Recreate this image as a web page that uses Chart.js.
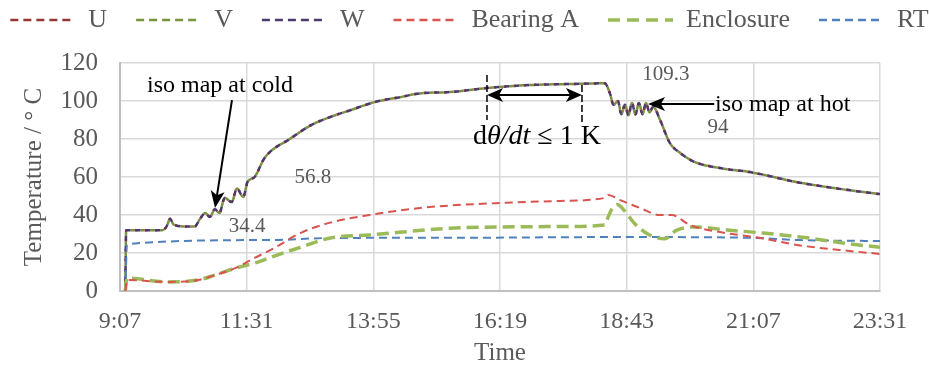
<!DOCTYPE html>
<html>
<head>
<meta charset="utf-8">
<script src="https://cdn.jsdelivr.net/npm/chart.js@4.4.1/dist/chart.umd.min.js"></script>
<style>
  html, body { margin: 0; padding: 0; background: #fff; }
  #wrap { width: 929px; height: 368px; }
</style>
</head>
<body>
<div id="wrap"><canvas id="tempChart"></canvas></div>
<script>
// time axis in minutes after midnight (9:07 .. 23:31, one tick every 2:24)
const timeTicks = [547, 691, 835, 979, 1123, 1267, 1411];

// U / V / W windings (the three traces lie on top of each other)
const windingTime = [553, 554, 595, 600, 604, 608, 620, 632, 638, 644, 649, 655, 660, 666, 674, 680, 687, 692, 700, 710, 717, 740, 763, 786, 808, 837, 865, 888, 922, 968, 1013, 1064, 1098, 1104, 1108, 1113, 1117, 1121, 1125, 1129, 1133, 1137, 1141, 1145, 1149, 1153, 1161, 1172, 1184, 1200, 1229, 1263, 1320, 1377, 1411];
const windingTemp = [0, 32, 32, 34, 38, 35, 34, 34, 38, 41, 39, 43, 41, 49, 46.8, 54, 49.5, 57.4, 60, 69, 73, 80, 87, 91.6, 95, 99.5, 102, 104, 104.7, 107, 108.4, 109, 109.3, 104, 98, 100, 93, 98, 92.5, 99, 93, 99, 93, 99, 94, 97, 90, 78, 72.6, 68, 64.7, 62.6, 57, 53, 51];

const bearingTime = [553, 555, 600, 636, 655, 678, 700, 720, 752, 786, 831, 888, 922, 979, 1047, 1098, 1102, 1115, 1138, 1161, 1174, 1195, 1229, 1274, 1320, 1365, 1411];
const bearingTemp = [0, 5.8, 4.8, 5.8, 8.4, 12, 17.4, 22, 30.5, 36, 40, 43.7, 45, 46.3, 47.4, 49, 50.5, 48, 43.7, 40, 40, 34.7, 31, 28, 24, 21.6, 19.5];

const enclosureTime = [553, 555, 600, 636, 655, 678, 700, 720, 752, 786, 831, 922, 979, 1047, 1098, 1102, 1106, 1112, 1121, 1131, 1149, 1166, 1180, 1198, 1240, 1278, 1328, 1373, 1411];
const enclosureTemp = [0, 6.8, 4.8, 5.8, 8.4, 12, 14.7, 18, 23, 27.9, 29.5, 33, 33.7, 33.9, 34.7, 39, 43, 45.5, 42, 36, 29.5, 27.5, 32, 33.7, 32, 30.5, 28, 25, 23];

const rtTime = [553, 555, 717, 786, 922, 1115, 1263, 1320, 1411];
const rtTemp = [0, 24.7, 26.8, 27.9, 28, 28.4, 28, 26.8, 26.3];

const FONT = "'Liberation Serif', 'Times New Roman', serif";
const GREY = '#595959';

function pts(ts, vs) {
    return ts.map((t, i) => ({ x: t, y: vs[i] }));
}

function fmtTime(m) {
    return Math.floor(m / 60) + ':' + String(m % 60).padStart(2, '0');
}

function arrowHead(ctx, fx, fy, tx, ty, len, half) {
    const a = Math.atan2(ty - fy, tx - fx);
    const c = Math.cos(a), s = Math.sin(a);
    ctx.beginPath();
    ctx.moveTo(tx, ty);
    ctx.lineTo(tx - len * c + half * s, ty - len * s - half * c);
    ctx.lineTo(tx - len * 0.75 * c, ty - len * 0.75 * s);
    ctx.lineTo(tx - len * c - half * s, ty - len * s + half * c);
    ctx.closePath();
    ctx.fill();
}

// legend: one long row spread across the top, above the plot
const legendFit = {
    id: 'legendFit',
    beforeInit(chart) {
        const fit = chart.legend.fit;
        chart.legend.fit = function () {
            const mw = this.maxWidth;
            this.maxWidth = 1400;
            fit.call(this);
            this.maxWidth = mw;
            this.width = mw;
            this.height = 63;
        };
    },
    afterLayout(chart) {
        const lg = chart.legend;
        lg.top = -22;
        lg.left = -61;
        lg.right = 1000;
    }
};

const notes = {
    id: 'notes',
    afterDatasetsDraw(chart) {
        const { ctx, scales: { x, y } } = chart;
        const px = t => x.getPixelForValue(t);
        const py = v => y.getPixelForValue(v);
        ctx.save();
        ctx.textBaseline = 'middle';

        // grey value labels
        ctx.fillStyle = GREY;
        ctx.font = '21px ' + FONT;
        ctx.textAlign = 'center';
        ctx.fillText('34.4', px(691.4), py(33.7));
        ctx.fillText('56.8', px(766.4), py(60));
        ctx.fillText('109.3', px(1167.7), py(113.7));
        ctx.fillText('94', px(1226.8), py(85.8));

        // iso map at cold
        ctx.fillStyle = '#000';
        ctx.strokeStyle = '#000';
        ctx.font = '24px ' + FONT;
        ctx.fillText('iso map at cold', px(660.7), py(107.9));
        ctx.lineWidth = 2;
        let x1 = px(674.3), y1 = py(100.5), x2 = px(655), y2 = py(43.7);
        ctx.beginPath();
        ctx.moveTo(x1, y1);
        ctx.lineTo(x2 + (x1 - x2) * 0.08, y2 + (y1 - y2) * 0.08);
        ctx.stroke();
        arrowHead(ctx, x1, y1, x2, y2, 17, 7);

        // iso map at hot
        ctx.textAlign = 'left';
        ctx.fillText('iso map at hot', px(1223.4), py(97.9));
        x1 = px(1222.5); x2 = px(1147.3); y1 = py(98.4);
        ctx.beginPath();
        ctx.moveTo(x1, y1);
        ctx.lineTo(x2 + 10, y1);
        ctx.stroke();
        arrowHead(ctx, x1, y1, x2, y1, 17, 7);

        // steady-state window
        ctx.lineWidth = 1.5;
        ctx.setLineDash([7, 3]);
        ctx.beginPath();
        ctx.moveTo(px(964.2), py(113.7));
        ctx.lineTo(px(964.2), py(90));
        ctx.moveTo(px(1072.2), py(108.4));
        ctx.lineTo(px(1072.2), py(88.4));
        ctx.stroke();
        ctx.setLineDash([]);
        ctx.lineWidth = 2;
        const ya = py(103.2), xa = px(964.2), xb = px(1072.2);
        ctx.beginPath();
        ctx.moveTo(xa + 10, ya);
        ctx.lineTo(xb - 10, ya);
        ctx.stroke();
        arrowHead(ctx, xb, ya, xa, ya, 16, 7);
        arrowHead(ctx, xa, ya, xb, ya, 16, 7);

        // dθ/dt ≤ 1 K
        const parts = [['d', ''], ['θ/dt', 'italic '], [' ≤ 1 K', '']];
        let total = 0;
        parts.forEach(p => { ctx.font = p[1] + '28px ' + FONT; total += ctx.measureText(p[0]).width; });
        let cx = px(1021) - total / 2;
        const cy = py(81);
        parts.forEach(p => {
            ctx.font = p[1] + '28px ' + FONT;
            ctx.fillText(p[0], cx, cy);
            cx += ctx.measureText(p[0]).width;
        });
        ctx.restore();
    }
};

const common = { pointRadius: 0, fill: false, cubicInterpolationMode: 'monotone' };

new Chart(document.getElementById('tempChart'), {
    type: 'line',
    data: {
        datasets: [
            { ...common, label: 'U', data: pts(windingTime, windingTemp), borderColor: '#953735', borderWidth: 2.5, borderDash: [3, 7], borderDashOffset: 1, order: 3, legendDash: [8, 5], legendWidth: 2.5 },
            { ...common, label: 'V', data: pts(windingTime, windingTemp), borderColor: '#77933C', borderWidth: 2.5, borderDash: [4, 6], borderDashOffset: 5, order: 2, legendDash: [8, 5], legendWidth: 2.5 },
            { ...common, label: 'W', data: pts(windingTime, windingTemp), borderColor: '#4B3A6B', borderWidth: 2.5, borderDash: [5, 5], borderDashOffset: 0, order: 1, legendDash: [8, 5], legendWidth: 2.5 },
            { ...common, label: 'Bearing A', data: pts(bearingTime, bearingTemp), borderColor: '#D9534F', borderWidth: 2, borderDash: [8, 5], order: 0, legendDash: [8, 5], legendWidth: 2.5 },
            { ...common, label: 'Enclosure', data: pts(enclosureTime, enclosureTemp), borderColor: '#9BBB59', borderWidth: 3.5, borderDash: [12, 6], order: 0, legendDash: [12, 7], legendWidth: 3.5 },
            { ...common, label: 'RT', data: pts(rtTime, rtTemp), borderColor: '#4F81BD', borderWidth: 2, borderDash: [8, 5], order: 0, legendDash: [8, 5], legendWidth: 2.5 },
        ],
    },
    options: {
        responsive: true,
        maintainAspectRatio: false,
        animation: false,
        layout: { padding: { left: 0, right: 49, top: 0, bottom: 0 } },
        plugins: {
            legend: {
                position: 'top',
                labels: {
                    usePointStyle: true,
                    pointStyle: 'line',
                    pointStyleWidth: 65,
                    padding: 29,
                    color: GREY,
                    font: { family: FONT, size: 26 },
                    generateLabels: (chart) => chart.data.datasets.map((ds, i) => ({
                        text: ds.label,
                        fillStyle: ds.borderColor,
                        strokeStyle: ds.borderColor,
                        fontColor: GREY,
                        lineWidth: ds.legendWidth,
                        lineDash: ds.legendDash,
                        lineDashOffset: 0,
                        pointStyle: 'line',
                        hidden: false,
                        datasetIndex: i,
                    })),
                },
            },
            tooltip: { enabled: false },
        },
        scales: {
            x: {
                type: 'linear',
                min: 547,
                max: 1411,
                afterBuildTicks: (s) => { s.ticks = timeTicks.map(v => ({ value: v })); },
                afterFit: (s) => { s.height = 77; },
                ticks: { callback: (v) => fmtTime(v), color: GREY, font: { family: FONT, size: 24 }, padding: 16, maxRotation: 0, autoSkip: false },
                grid: { color: '#d9d9d9', lineWidth: 1.5, drawTicks: false },
                border: { color: '#bfbfbf', width: 2 },
                title: { display: true, text: 'Time', color: GREY, font: { family: FONT, size: 25 }, padding: { top: 0, bottom: 0 } },
            },
            y: {
                min: 0,
                max: 120,
                afterFit: (s) => { s.width = 120; },
                ticks: { stepSize: 20, color: GREY, font: { family: FONT, size: 25 }, padding: 22 },
                grid: { color: '#d9d9d9', lineWidth: 1.5, drawTicks: false },
                border: { color: '#bfbfbf', width: 2 },
                title: { display: true, text: 'Temperature / ° C', color: GREY, font: { family: FONT, size: 25 }, padding: { top: 19, bottom: 0 } },
            },
        },
    },
    plugins: [legendFit, notes],
});
</script>
</body>
</html>
